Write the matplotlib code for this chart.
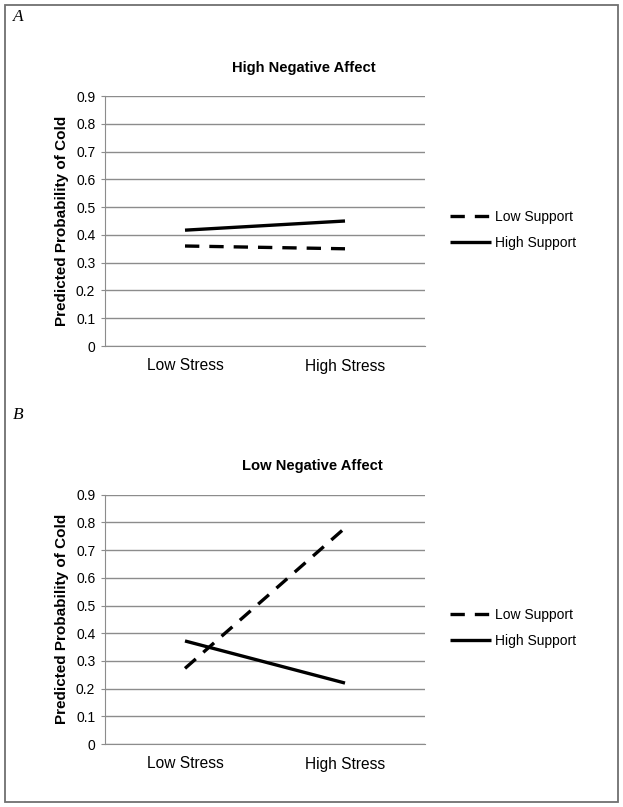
import numpy as np
import matplotlib.pyplot as plt
from matplotlib.patches import Rectangle

plt.rcParams['font.family'] = ['Liberation Sans', 'DejaVu Sans']

categorias = ['Low Stress', 'High Stress']
series = ['Low Support', 'High Support']

# panel A: high negative affect
alto_low_support = [0.36, 0.35]
alto_high_support = [0.417, 0.45]

# panel B: low negative affect
bajo_low_support = [0.273, 0.78]
bajo_high_support = [0.372, 0.22]

paneles = [
    ('A', 'High Negative Affect', alto_low_support, alto_high_support),
    ('B', 'Low Negative Affect', bajo_low_support, bajo_high_support),
]

W, H = 623, 807
fig = plt.figure(figsize=(W / 100, H / 100), dpi=100)

# marco exterior
fig.patches.append(Rectangle((5 / W, 1 - 802 / H), 613 / W, 797 / H,
                             transform=fig.transFigure, fill=False,
                             edgecolor='#707070', linewidth=1.3))

# posiciones en pixeles: (arriba, abajo, y letra, y titulo, x titulo)
pos = [(96, 346, 17, 68, 304), (494.7, 744, 415, 466, 312)]
x_izq, x_der = 105, 425

for (letra, titulo, low_s, high_s), (top, bot, y_letra, y_tit, x_tit) in zip(paneles, pos):
    ax = fig.add_axes([x_izq / W, 1 - bot / H, (x_der - x_izq) / W, (bot - top) / H])
    x = np.arange(len(categorias))
    ax.plot(x, low_s, color='black', linewidth=2.4, dashes=(4.3, 3.0),
            solid_capstyle='butt', label=series[0])
    ax.plot(x, high_s, color='black', linewidth=2.4, solid_capstyle='butt',
            label=series[1])
    ax.set_xlim(-0.5, 1.5)
    ax.set_ylim(0, 0.9)
    ax.set_yticks(np.arange(0, 0.91, 0.1))
    ax.set_yticklabels(['0'] + ['%.1f' % v for v in np.arange(0.1, 0.91, 0.1)])
    ax.set_xticks(x)
    ax.set_xticklabels(categorias, fontsize=11.2)
    ax.yaxis.grid(True, color='#8c8c8c', linewidth=1.0)
    ax.set_axisbelow(True)
    for s in ['top', 'right']:
        ax.spines[s].set_visible(False)
    ax.spines['left'].set_color('#8c8c8c')
    ax.spines['bottom'].set_color('#8c8c8c')
    ax.tick_params(axis='y', length=3, color='#8c8c8c', labelsize=10, pad=4)
    ax.tick_params(axis='x', length=0, pad=9)
    ax.set_ylabel('Predicted Probability of Cold', fontsize=11, fontweight='bold', labelpad=5)
    ax.legend(loc='center left', bbox_to_anchor=(1.04, 0.465), frameon=False,
              fontsize=10, handlelength=2.9, handletextpad=0.3, labelspacing=0.85)
    fig.text(x_tit / W, 1 - y_tit / H, titulo, fontsize=10.6, fontweight='bold',
             ha='center', va='center')
    fig.text(13 / W, 1 - y_letra / H, letra, fontsize=12.5, style='italic',
             family=['Liberation Serif', 'DejaVu Serif'], ha='left', va='center')

fig.savefig('out.png', dpi=100)
